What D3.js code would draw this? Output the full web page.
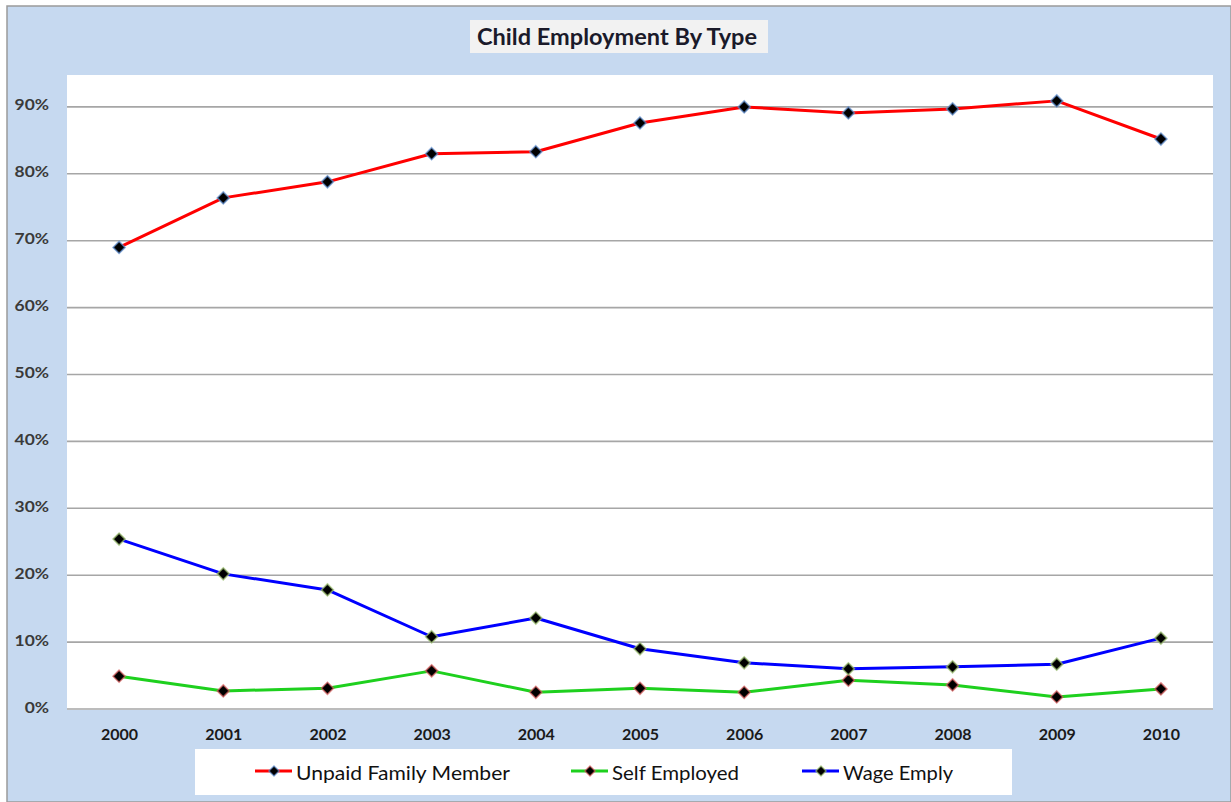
<!DOCTYPE html>
<html><head><meta charset="utf-8">
<script src="https://cdn.jsdelivr.net/npm/d3@7"></script>
<style>
html,body{margin:0;padding:0;background:#fff;}
svg{display:block;}
</style></head>
<body>
<svg id="c" width="1231" height="802"></svg>
<script>
const years = ["2000","2001","2002","2003","2004","2005","2006","2007","2008","2009","2010"];
const unpaidFamily = [0.690,0.764,0.788,0.830,0.833,0.876,0.900,0.891,0.897,0.909,0.852];
const selfEmployed = [0.049,0.027,0.031,0.057,0.025,0.031,0.025,0.043,0.036,0.018,0.030];
const wageEmply   = [0.254,0.202,0.178,0.108,0.136,0.090,0.069,0.060,0.063,0.067,0.106];
const yTicks = [0,0.1,0.2,0.3,0.4,0.5,0.6,0.7,0.8,0.9];
const seriesNames = ["Unpaid Family Member","Self Employed","Wage Emply"];

const series = [
  {name:seriesNames[0], values:unpaidFamily, color:"#ff0000", halo:"#5f8fd0"},
  {name:seriesNames[1], values:selfEmployed, color:"#1ed01e", halo:"#d86060"},
  {name:seriesNames[2], values:wageEmply, color:"#0000ff", halo:"#9cc070"}
];

const FONT = "Lato, 'Open Sans', sans-serif";
const svg = d3.select("#c");
const W = 1231, H = 802;
svg.append("rect").attr("x",7).attr("y",6).attr("width",W-7).attr("height",H-6)
  .attr("fill","#c6d9f0").attr("stroke","#9a9a9a").attr("stroke-width",1.5);

const plot = {left:67, right:1213, top:75, bottom:710};
svg.append("rect").attr("x",plot.left).attr("y",plot.top)
  .attr("width",plot.right-plot.left).attr("height",plot.bottom-plot.top).attr("fill","#fff");

const x = d3.scalePoint().domain(years).range([plot.left,plot.right]).padding(0.5);
const y = d3.scaleLinear().domain([0,0.95]).range([709,709-0.95*669]);

svg.append("g").selectAll("line").data(yTicks).join("line")
  .attr("x1",plot.left).attr("x2",plot.right)
  .attr("y1",d=>y(d)).attr("y2",d=>y(d))
  .attr("stroke","#a6a6a6").attr("stroke-width",1.6);

function stretch(sel, f){
  sel.each(function(){
    const w = this.getComputedTextLength();
    d3.select(this).attr("textLength", w*f).attr("lengthAdjust","spacingAndGlyphs");
  });
}

const yAxis = d3.axisLeft(y).tickValues(yTicks).tickFormat(d3.format(".0%")).tickSize(0).tickPadding(0);
const gy = svg.append("g").attr("transform",`translate(49,-2)`).call(yAxis);
gy.select(".domain").remove();
gy.selectAll("text").attr("font-family",FONT).attr("font-size",14.5)
  .attr("font-weight","bold").attr("fill","#3a3a3a").attr("dy","0.35em");
stretch(gy.selectAll("text"), 1.2);

const xAxis = d3.axisBottom(x).tickSize(0).tickPadding(0);
const gx = svg.append("g").attr("transform",`translate(0,740)`).call(xAxis);
gx.select(".domain").remove();
gx.selectAll("text").attr("font-family",FONT).attr("font-size",16)
  .attr("font-weight","bold").attr("fill","#1a1a1a").attr("dy","0");

const line = d3.line().x((d,i)=>x(years[i])).y(d=>y(d));
const diamond = "M0,-6L6,0L0,6L-6,0Z";
series.forEach(s=>{
  svg.append("path").datum(s.values).attr("d",line).attr("fill","none")
    .attr("stroke",s.color).attr("stroke-width",3).attr("stroke-linejoin","round");
});
series.forEach(s=>{
  svg.append("g").selectAll("path").data(s.values).join("path")
    .attr("d",diamond)
    .attr("transform",(d,i)=>`translate(${x(years[i])},${y(d)})`)
    .attr("fill","#000").attr("stroke",s.halo).attr("stroke-width",1.6).attr("stroke-opacity",0.7);
});

svg.append("rect").attr("x",470).attr("y",20).attr("width",298).attr("height",33).attr("fill","#f2f2f2");
svg.append("text").attr("x",477).attr("y",45)
  .attr("font-family",FONT).attr("font-size",23).attr("font-weight","bold")
  .attr("fill","#1a1a2a").attr("textLength",280).attr("lengthAdjust","spacingAndGlyphs")
  .text("Child Employment By Type");

svg.append("rect").attr("x",195).attr("y",749).attr("width",817).attr("height",46).attr("fill","#fff");
const legX = [255, 571, 802];
const legW = [214, 127, 110];
series.forEach((s,i)=>{
  const g = svg.append("g").attr("transform",`translate(${legX[i]},771)`);
  g.append("line").attr("x1",0).attr("x2",37).attr("y1",0).attr("y2",0)
    .attr("stroke",s.color).attr("stroke-width",3);
  g.append("path").attr("d",diamond).attr("transform","translate(19,0) scale(0.85)")
    .attr("fill","#000").attr("stroke",s.halo).attr("stroke-width",1.6).attr("stroke-opacity",0.7);
  g.append("text").attr("x",41).attr("y",9).attr("font-family",FONT)
    .attr("font-size",20).attr("fill","#111").attr("textLength",legW[i]).attr("lengthAdjust","spacingAndGlyphs")
    .text(s.name);
});
</script>
</body></html>
